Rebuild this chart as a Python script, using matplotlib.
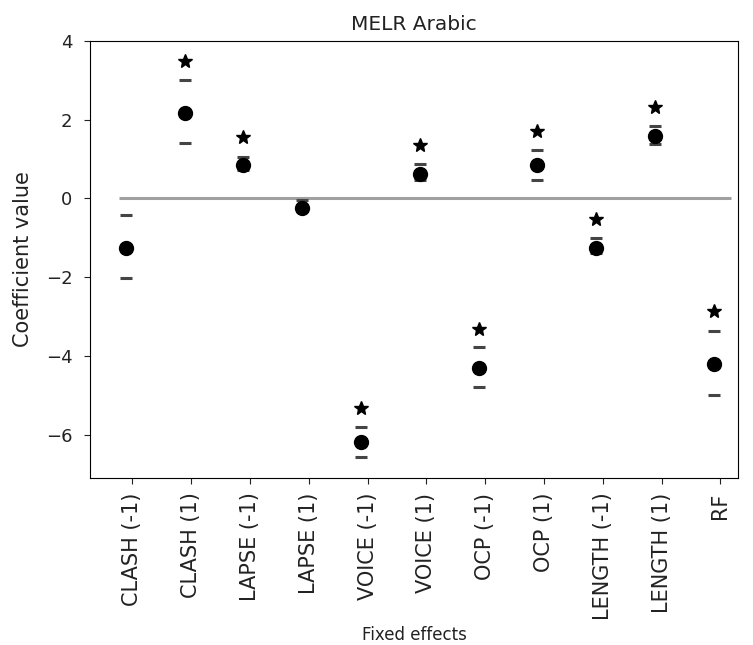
import matplotlib
matplotlib.use("Agg")
import matplotlib.pyplot as plt
import numpy as np

categories = ["CLASH (-1)", "CLASH (1)", "LAPSE (-1)", "LAPSE (1)", "VOICE (-1)",
              "VOICE (1)", "OCP (-1)", "OCP (1)", "LENGTH (-1)", "LENGTH (1)", "RF"]
coef = [-1.25, 2.17, 0.84, -0.25, -6.19, 0.63, -4.30, 0.84, -1.25, 1.60, -4.20]
upper = [-0.41, 3.00, 1.05, -0.05, -5.80, 0.87, -3.77, 1.22, -1.01, 1.83, -3.36]
lower = [-2.03, 1.42, 0.72, -0.33, -6.56, 0.46, -4.78, 0.46, -1.38, 1.39, -4.99]
significant = [False, True, True, False, True, True, True, True, True, True, True]
star_y = [None, 3.50, 1.56, None, -5.31, 1.35, -3.31, 1.71, -0.52, 2.32, -2.86]

fig = plt.figure(figsize=(7.53, 6.45), dpi=100)
ax = fig.add_axes([0.1195, 0.2589, 0.8605, 0.6775])

ticks = np.arange(len(categories))
xpos = ticks - 0.11

ax.hlines(0, -0.22, 10.19, colors="#a0a0a0", linewidth=2.2, zorder=1)
ax.plot(xpos, upper, linestyle="none", marker="_", markersize=8.6,
        markeredgewidth=2.2, color="#444444", zorder=2)
ax.plot(xpos, lower, linestyle="none", marker="_", markersize=8.6,
        markeredgewidth=2.2, color="#444444", zorder=2)
ax.plot(xpos, coef, linestyle="none", marker="o", markersize=10, color="black", zorder=3)
sx = [x for x, s in zip(xpos, significant) if s]
sy = [y for y, s in zip(star_y, significant) if s]
ax.plot(sx, sy, linestyle="none", marker="*", markersize=10, color="black", zorder=3)

ax.set_xlim(-0.72, 10.3)
ax.set_ylim(-7.1, 4.0)
ax.set_yticks([-6, -4, -2, 0, 2, 4])
ax.set_xticks(ticks)
ax.set_xticklabels(categories, rotation=90)
ax.tick_params(axis="x", labelsize=15, colors="#222222", length=4.5, pad=6)
ax.tick_params(axis="y", labelsize=13, colors="#222222", length=4.5, pad=8)
ax.set_title("MELR Arabic", fontsize=14.5, pad=8, color="#222222")
ax.set_xlabel("Fixed effects", fontsize=12, labelpad=4, color="#222222")
ax.set_ylabel("Coefficient value", fontsize=15, labelpad=9, color="#222222")

fig.savefig("out.png", dpi=100)
